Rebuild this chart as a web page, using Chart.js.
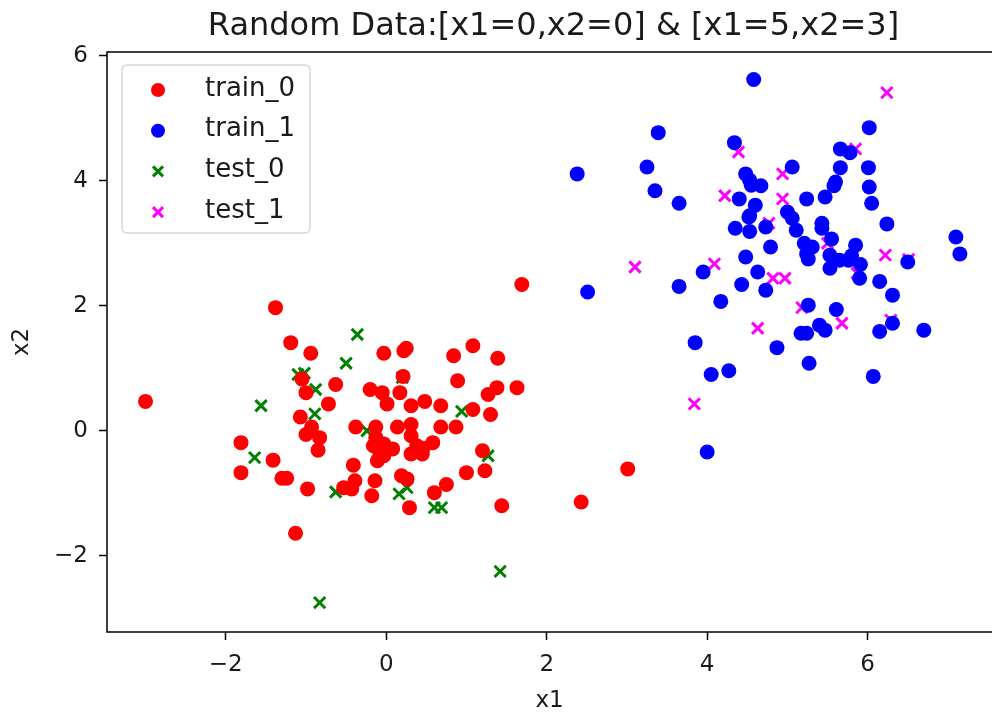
<!DOCTYPE html>
<html lang="en">
<head>
    <meta charset="UTF-8" />
    <title>Random Data scatter</title>
    <script src="https://cdn.jsdelivr.net/npm/chart.js@4/dist/chart.umd.min.js"></script>
    <style>
        body {
            margin: 0;
            background: #fff;
        }

        #wrap {
            width: 992px;
            height: 715px;
        }
    </style>
</head>
<body>
    <div id="wrap"><canvas id="chart"></canvas></div>

    <script>
        // cluster around (0,0)
        const train0 = [
            [-1.38, 1.97], [-1.19, 1.41], [-0.94, 1.24], [-3.0, 0.47], [-1.05, 0.83], [-1.0, 0.61],
            [-0.72, 0.43], [-1.07, 0.22], [-0.93, 0.06], [-1.0, -0.06], [-0.83, -0.11], [-0.85, -0.31],
            [-1.81, -0.19], [-1.41, -0.47], [-1.81, -0.67], [-1.3, -0.76], [-1.24, -0.76], [1.69, 2.34],
            [-0.03, 1.24], [0.25, 1.32], [0.22, 1.28], [0.84, 1.2], [1.08, 1.36], [1.39, 1.16],
            [0.21, 0.87], [0.89, 0.8], [-0.63, 0.74], [-0.2, 0.66], [-0.05, 0.61], [0.17, 0.61],
            [1.27, 0.58], [1.38, 0.69], [1.63, 0.69], [0.01, 0.43], [0.31, 0.4], [0.48, 0.47],
            [0.68, 0.4], [1.08, 0.34], [1.3, 0.26], [-0.38, 0.06], [-0.13, 0.06], [0.14, 0.06],
            [0.31, 0.1], [0.68, 0.06], [0.87, 0.06], [-0.13, -0.11], [-0.16, -0.24], [-0.03, -0.21],
            [0.08, -0.29], [-0.11, -0.48], [-0.03, -0.4], [0.31, -0.08], [0.31, -0.37], [0.38, -0.24],
            [0.45, -0.37], [0.58, -0.19], [1.2, -0.32], [-0.41, -0.55], [1.0, -0.67], [1.23, -0.64],
            [-0.98, -0.93], [-1.13, -1.64], [-0.53, -0.91], [-0.43, -0.93], [-0.39, -0.8], [-0.18, -1.04],
            [-0.14, -0.8], [0.19, -0.72], [0.26, -0.77], [0.29, -1.23], [0.6, -0.99], [0.75, -0.86],
            [1.44, -1.2], [3.01, -0.61], [2.43, -1.14], [0.46, -0.28], [-0.08, -0.35]
        ];

        // cluster around (5,3)
        const train1 = [
            [4.58, 5.62], [3.39, 4.77], [4.34, 4.61], [3.25, 4.22], [2.38, 4.11], [3.35, 3.84],
            [3.65, 3.64], [4.48, 4.11], [4.55, 3.93], [4.67, 3.92], [4.4, 3.71], [4.6, 3.61],
            [4.53, 3.44], [4.35, 3.24], [4.53, 3.19], [4.73, 3.26], [4.79, 2.94], [4.48, 2.78],
            [4.63, 2.54], [3.95, 2.54], [6.02, 4.85], [5.66, 4.51], [5.78, 4.45], [5.06, 4.22],
            [5.66, 4.21], [6.01, 4.21], [5.6, 3.98], [5.58, 3.92], [6.02, 3.9], [6.05, 3.64],
            [5.24, 3.71], [5.47, 3.74], [4.53, 4.01], [4.52, 3.42], [5.0, 3.5], [5.06, 3.4],
            [5.11, 3.21], [5.43, 3.32], [5.43, 3.24], [5.55, 3.07], [5.21, 3.0], [5.31, 2.94],
            [5.24, 2.83], [5.53, 2.81], [5.65, 2.73], [5.76, 2.73], [5.85, 2.97], [5.91, 2.66],
            [5.53, 2.6], [6.24, 3.31], [7.1, 3.1], [7.15, 2.83], [6.5, 2.7], [2.51, 2.22],
            [3.65, 2.31], [4.17, 2.07], [4.43, 2.34], [4.73, 2.25], [3.85, 1.41], [4.05, 0.9],
            [4.27, 0.96], [4.0, -0.34], [5.9, 2.44], [6.15, 2.39], [6.31, 2.17], [5.26, 2.01],
            [5.61, 1.94], [5.4, 1.69], [5.47, 1.61], [5.17, 1.56], [5.24, 1.56], [6.15, 1.59],
            [6.31, 1.72], [6.7, 1.61], [4.87, 1.33], [5.27, 1.08], [6.07, 0.87], [5.26, 2.75], [5.8, 2.8]
        ];

        const test0 = [
            [-1.1, 0.9], [-1.02, 0.92], [-0.88, 0.66], [-1.56, 0.4], [-0.89, 0.27], [-1.64, -0.43],
            [-0.36, 1.54], [-0.5, 1.08], [0.2, 0.85], [0.94, 0.31], [-0.24, 0.0], [1.27, -0.4],
            [-0.63, -0.98], [0.16, -1.01], [0.26, -0.91], [0.6, -1.23], [0.69, -1.23], [1.42, -2.25],
            [-0.83, -2.75]
        ];

        const test1 = [
            [4.39, 4.46], [4.22, 3.76], [3.1, 2.62], [4.09, 2.67], [4.77, 3.32], [6.24, 5.41],
            [5.85, 4.51], [4.94, 4.11], [4.94, 3.71], [5.5, 3.0], [6.22, 2.81], [6.51, 2.74],
            [5.87, 2.52], [4.82, 2.44], [4.97, 2.44], [5.18, 1.97], [5.68, 1.72], [6.29, 1.77],
            [4.63, 1.64], [3.84, 0.43]
        ];

        const seriesNames = ['train_0', 'train_1', 'test_0', 'test_1'];
        const seriesColors = ['#ff0000', '#0000ff', '#008000', '#ff00ff'];
        const xTicks = [-2, 0, 2, 4, 6];
        const yTicks = [-2, 0, 2, 4, 6];
        const titleText = 'Random Data:[x1=0,x2=0] & [x1=5,x2=3]';

        const FONT = "'DejaVu Sans', sans-serif";
        const TEXT = '#1a1a1a';
        const OVERHANG = 8; // the axes go on a few px past the right edge of the picture
        const toXY = arr => arr.map(p => ({ x: p[0], y: p[1] }));
        const minus = v => String(v).replace('-', '\u2212');

        function circleSet(i, data) {
            return {
                label: seriesNames[i], data: toXY(data),
                pointStyle: 'circle', pointRadius: 7.5, pointHoverRadius: 7.5,
                backgroundColor: seriesColors[i], borderColor: seriesColors[i], borderWidth: 0
            };
        }
        function crossSet(i, data) {
            return {
                label: seriesNames[i], data: toXY(data),
                pointStyle: 'crossRot', pointRadius: 8, pointHoverRadius: 8,
                backgroundColor: seriesColors[i], borderColor: seriesColors[i], borderWidth: 3
            };
        }

        // frame, title centred over the axes, and a legend box inside the plot (matplotlib look)
        const framePlugin = {
            id: 'frame',
            afterDatasetsDraw(chart) {
                const { ctx, chartArea: a } = chart;
                ctx.save();
                ctx.strokeStyle = '#000';
                ctx.lineWidth = 1.5;
                ctx.beginPath();
                ctx.moveTo(a.right + OVERHANG, a.top);
                ctx.lineTo(a.left, a.top);
                ctx.lineTo(a.left, a.bottom);
                ctx.lineTo(a.right + OVERHANG, a.bottom);
                ctx.stroke();
                ctx.restore();
            },
            afterDraw(chart) {
                const { ctx, chartArea: a } = chart;
                ctx.save();
                ctx.font = '32px ' + FONT;
                ctx.fillStyle = TEXT;
                ctx.textAlign = 'center';
                ctx.textBaseline = 'alphabetic';
                ctx.fillText(titleText, (a.left + a.right + OVERHANG) / 2, 35);

                const bx = a.left + 15, by = a.top + 13, bw = 188, bh = 168;
                ctx.fillStyle = 'rgba(255,255,255,0.8)';
                ctx.strokeStyle = '#d6d6d6';
                ctx.lineWidth = 1.5;
                ctx.beginPath();
                ctx.roundRect(bx, by, bw, bh, 5);
                ctx.fill();
                ctx.stroke();
                ctx.font = '26px ' + FONT;
                ctx.textAlign = 'left';
                ctx.textBaseline = 'middle';
                chart.data.datasets.forEach((ds, i) => {
                    const y = by + 25 + i * 40.7;
                    const x = bx + 36;
                    ctx.fillStyle = ds.backgroundColor;
                    ctx.strokeStyle = ds.borderColor;
                    if (ds.pointStyle === 'circle') {
                        ctx.beginPath();
                        ctx.arc(x, y, 7, 0, Math.PI * 2);
                        ctx.fill();
                    } else {
                        ctx.lineWidth = 3;
                        ctx.beginPath();
                        ctx.moveTo(x - 5, y - 5); ctx.lineTo(x + 5, y + 5);
                        ctx.moveTo(x - 5, y + 5); ctx.lineTo(x + 5, y - 5);
                        ctx.stroke();
                    }
                    ctx.fillStyle = TEXT;
                    ctx.fillText(ds.label, bx + 83, y - 1);
                });
                ctx.restore();
            }
        };

        function axisOpts(min, max, ticks, title, isX) {
            return {
                type: 'linear',
                min: min, max: max,
                afterBuildTicks: s => { s.ticks = ticks.map(v => ({ value: v })); },
                afterFit: s => {
                    if (isX) { s.height = 83; s.paddingLeft = 0; s.paddingRight = 0; }
                    else { s.width = 107; s.paddingTop = 0; s.paddingBottom = 0; }
                },
                grid: { drawOnChartArea: false, drawTicks: true, tickLength: 8, color: '#000', tickWidth: 1.5 },
                border: { display: false },
                ticks: {
                    color: TEXT, font: { family: FONT, size: 23 }, padding: isX ? 11 : 11,
                    maxRotation: 0, callback: v => minus(v)
                },
                title: {
                    display: true, text: title, color: TEXT,
                    font: { family: FONT, size: 23 },
                    padding: isX ? { top: 0, bottom: 0 } : { top: 8, bottom: 0 }
                }
            };
        }

        new Chart(document.getElementById('chart'), {
            type: 'scatter',
            data: {
                datasets: [
                    circleSet(0, train0),
                    circleSet(1, train1),
                    crossSet(2, test0),
                    crossSet(3, test1)
                ]
            },
            options: {
                responsive: true,
                maintainAspectRatio: false,
                animation: false,
                layout: { autoPadding: false, padding: { left: 0, right: 0, top: 52, bottom: 0 } },
                plugins: {
                    legend: { display: false },
                    tooltip: { enabled: false },
                    title: { display: false }
                },
                scales: {
                    x: axisOpts(-3.48, 7.55, xTicks, 'x1', true),
                    y: axisOpts(-3.22, 6.06, yTicks, 'x2', false)
                }
            },
            plugins: [framePlugin]
        });
    </script>
</body>
</html>
